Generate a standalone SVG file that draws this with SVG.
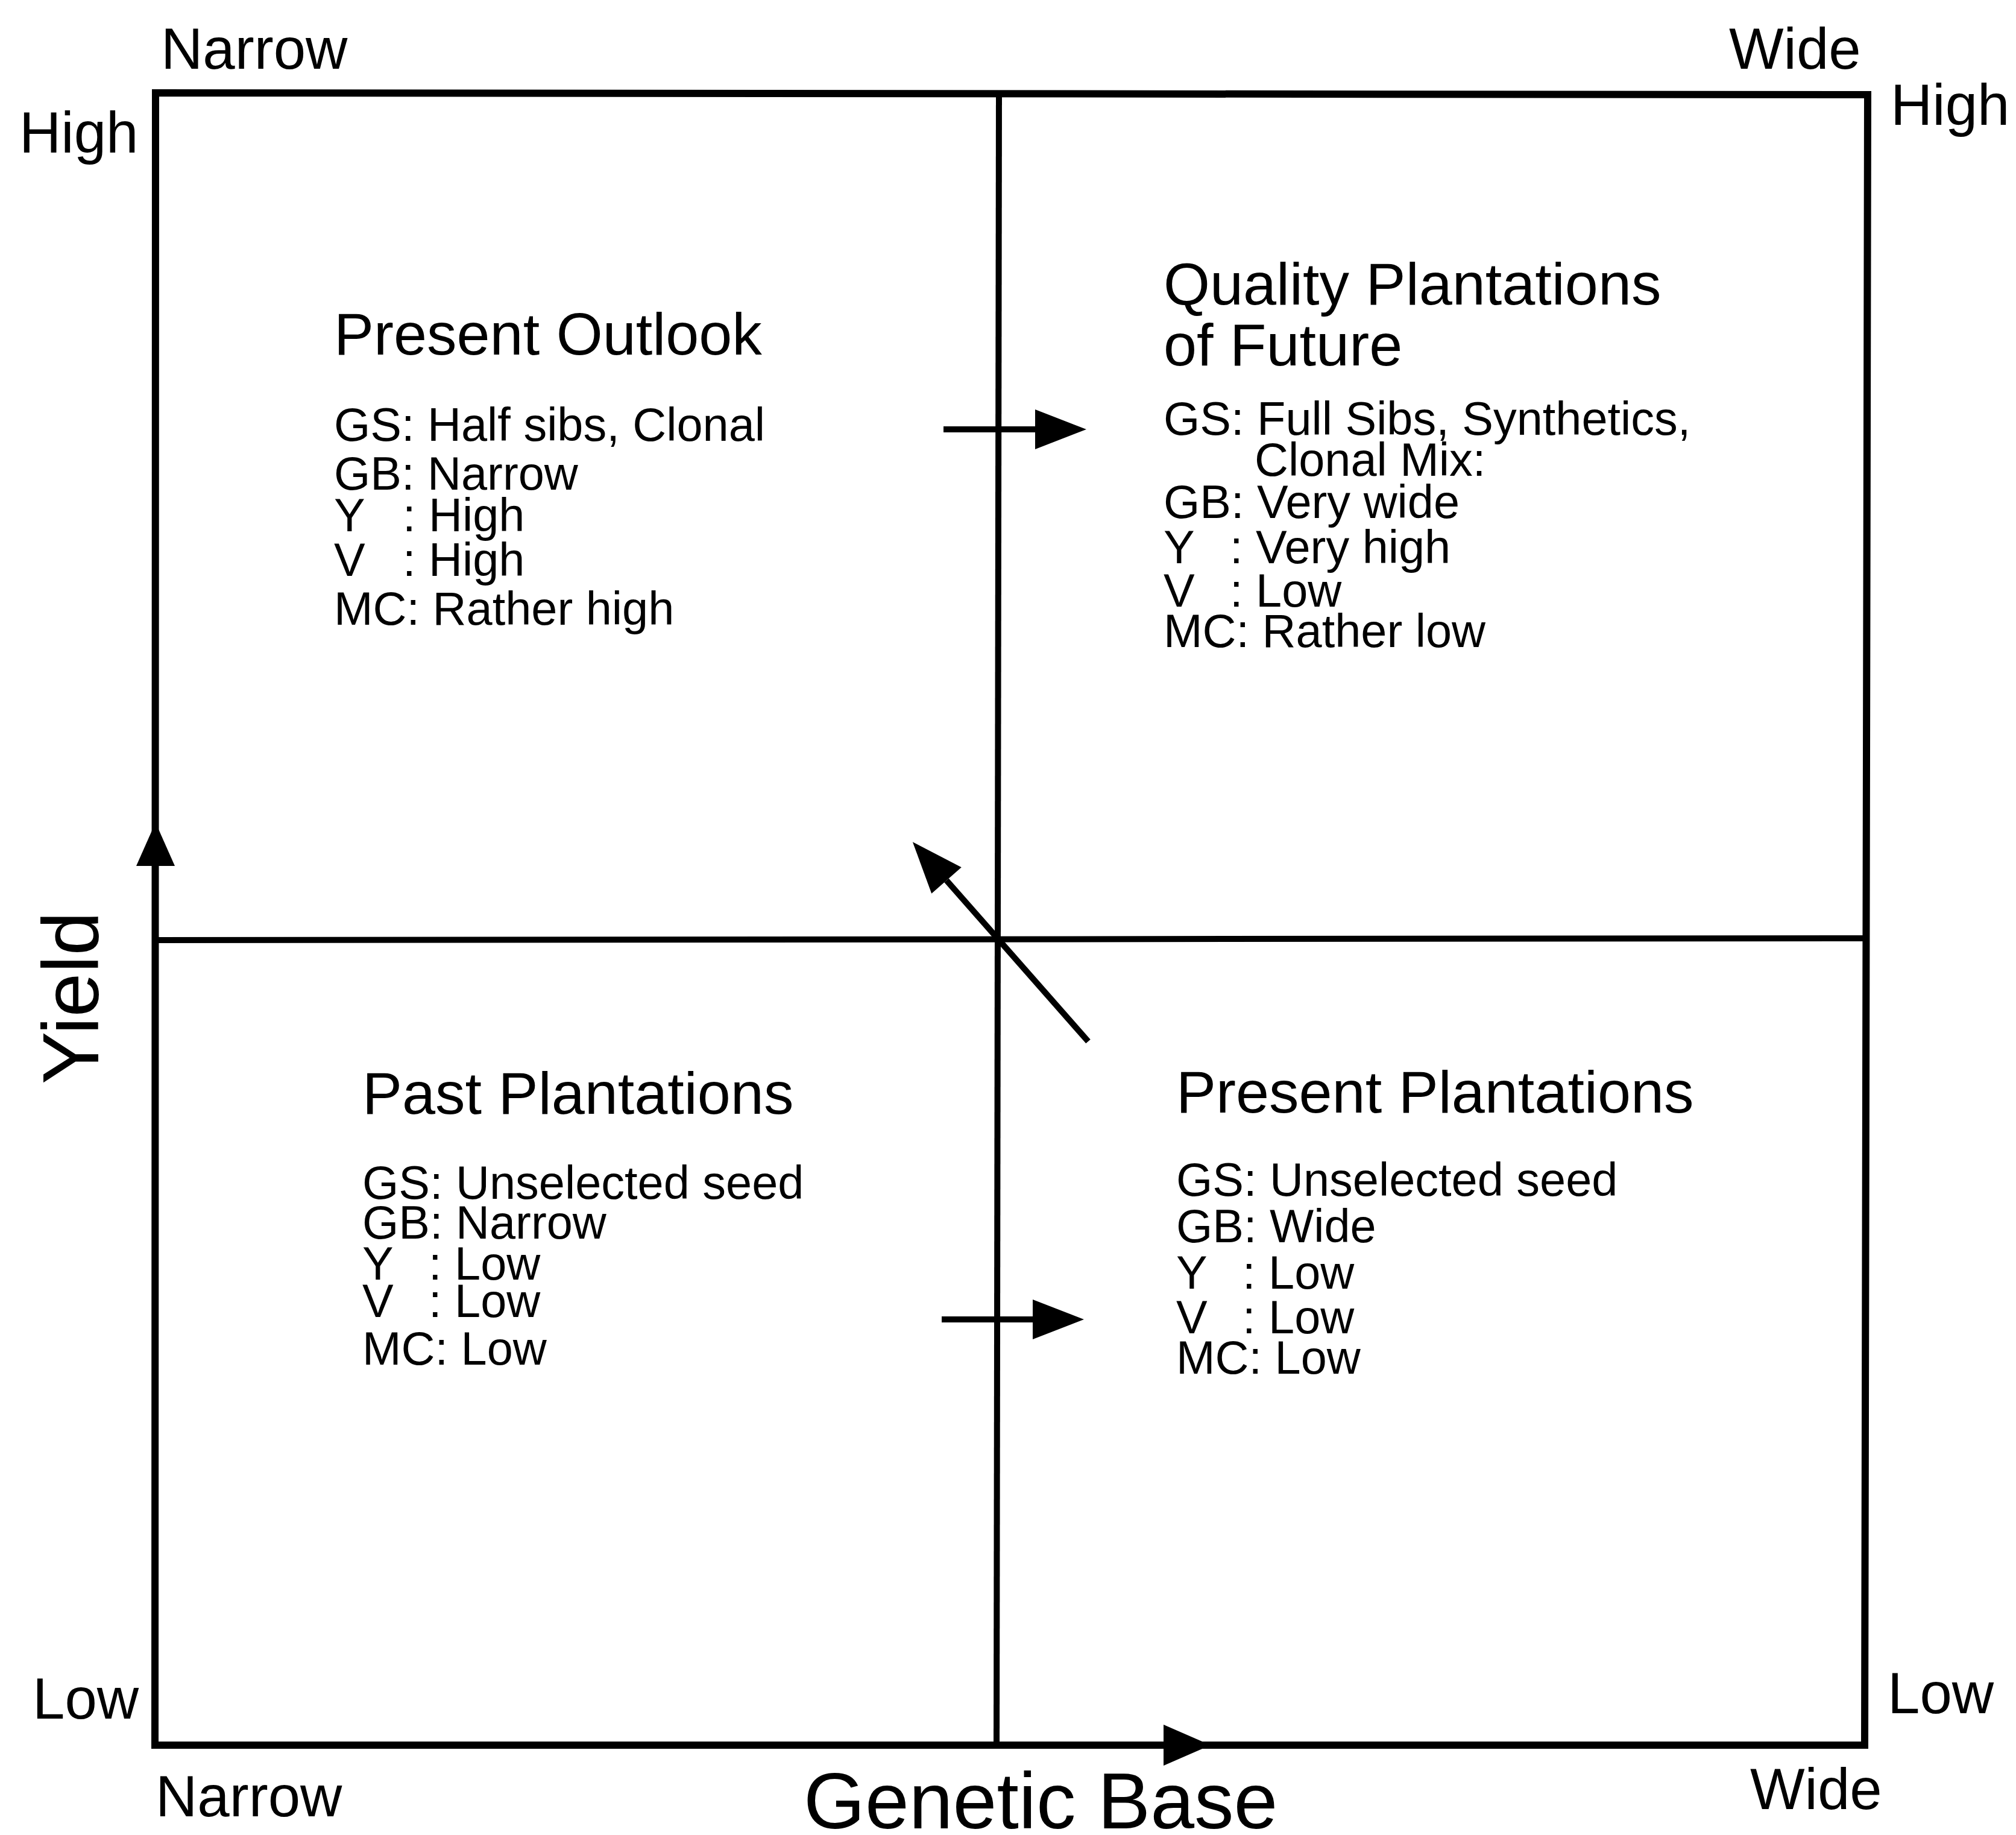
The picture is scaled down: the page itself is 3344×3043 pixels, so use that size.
<svg xmlns="http://www.w3.org/2000/svg" width="3344" height="3043" viewBox="0 0 3344 3043">
<style>
text{font-family:"Liberation Sans",Arial,Helvetica,sans-serif;fill:#000}
.lbl{font-size:96px}
.axis{font-size:131px}
.title{font-size:99px}
.det{font-size:77.5px}
.frame{fill:none;stroke:#000;stroke-width:12;stroke-linejoin:miter}
.mid{fill:none;stroke:#000;stroke-width:10}
.conn{fill:none;stroke:#000;stroke-width:10}
</style>
<defs>
<marker id="ah" markerUnits="userSpaceOnUse" markerWidth="90" markerHeight="70" refX="0" refY="33" orient="auto" viewBox="0 0 90 70" overflow="visible">
<path d="M0,0 L85,33 L0,66 Z" fill="#000"/>
</marker>
</defs>
<rect width="3344" height="3043" fill="#fff"/>
<g id="frame">
<path class="frame" d="M258,154 L3098,157 L3093,2894 L257,2894 Z"/>
<line class="mid" x1="1657" y1="154" x2="1653" y2="2894"/>
<line class="mid" x1="258" y1="1559" x2="3096" y2="1556"/>
<polygon points="258,1364 290,1436 226,1436" fill="#000"/>
<polygon points="2008,2894 1930,2860 1930,2928" fill="#000"/>
</g>
<g id="axis-labels">
<text class="lbl" x="267" y="114">Narrow</text>
<text class="lbl" x="2868" y="114">Wide</text>
<text class="lbl" x="32" y="253">High</text>
<text class="lbl" x="3136" y="207">High</text>
<text class="lbl" x="54" y="2850">Low</text>
<text class="lbl" x="3131" y="2841">Low</text>
<text class="lbl" x="258" y="3012">Narrow</text>
<text class="lbl" x="2903" y="3000">Wide</text>
<text class="axis" x="1333" y="3032">Genetic Base</text>
<text class="axis" transform="translate(163,1798) rotate(-90)">Yield</text>
</g>
<g id="present-outlook">
<text class="title" x="554" y="588">Present Outlook</text>
<text class="det" x="554" y="731">GS: Half sibs, Clonal</text>
<text class="det" x="554" y="812">GB: Narrow</text>
<text class="det" x="554" y="881">Y</text><text class="det" x="668" y="881">: High</text>
<text class="det" x="554" y="955">V</text><text class="det" x="668" y="955">: High</text>
<text class="det" x="554" y="1036">MC: Rather high</text>
</g>
<g id="quality-plantations">
<text class="title" x="1930" y="505">Quality Plantations</text>
<text class="title" x="1930" y="606">of Future</text>
<text class="det" x="1930" y="721">GS: Full Sibs, Synthetics,</text>
<text class="det" x="2081" y="789">Clonal Mix:</text>
<text class="det" x="1930" y="859">GB: Very wide</text>
<text class="det" x="1930" y="934">Y</text><text class="det" x="2040" y="934">: Very high</text>
<text class="det" x="1930" y="1006">V</text><text class="det" x="2040" y="1006">: Low</text>
<text class="det" x="1930" y="1073">MC: Rather low</text>
</g>
<g id="past-plantations">
<text class="title" x="601" y="1847">Past Plantations</text>
<text class="det" x="601" y="1988">GS: Unselected seed</text>
<text class="det" x="601" y="2054">GB: Narrow</text>
<text class="det" x="601" y="2122">Y</text><text class="det" x="711" y="2122">: Low</text>
<text class="det" x="601" y="2184">V</text><text class="det" x="711" y="2184">: Low</text>
<text class="det" x="601" y="2263">MC: Low</text>
</g>
<g id="present-plantations">
<text class="title" x="1951" y="1845">Present Plantations</text>
<text class="det" x="1951" y="1983">GS: Unselected seed</text>
<text class="det" x="1951" y="2060">GB: Wide</text>
<text class="det" x="1951" y="2137">Y</text><text class="det" x="2061" y="2137">: Low</text>
<text class="det" x="1951" y="2211">V</text><text class="det" x="2061" y="2211">: Low</text>
<text class="det" x="1951" y="2278">MC: Low</text>
</g>
<g id="connectors">
<line class="conn" x1="1565" y1="712" x2="1717" y2="712" marker-end="url(#ah)"/>
<line class="conn" x1="1562" y1="2188" x2="1713" y2="2188" marker-end="url(#ah)"/>
<line class="conn" x1="1805" y1="1727" x2="1570" y2="1460" marker-end="url(#ah)"/>
</g>
</svg>
